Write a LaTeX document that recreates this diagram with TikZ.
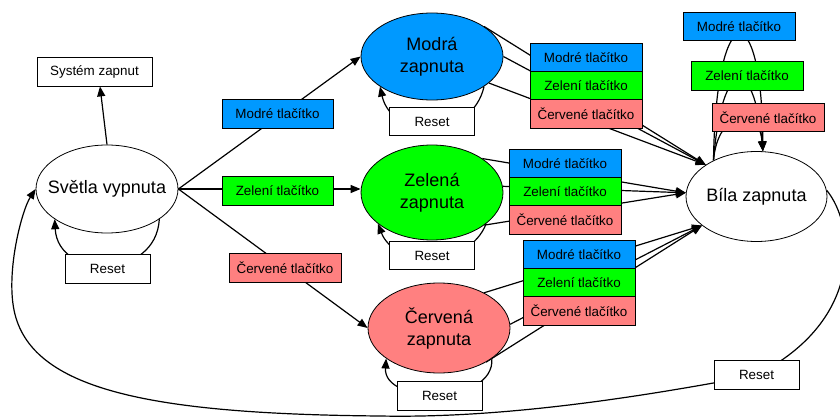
\documentclass[tikz,border=0pt]{standalone}
\usepackage{fontspec}
\setmainfont{Liberation Sans}
\usetikzlibrary{shapes.geometric,arrows.meta}
\pgfdeclarelayer{edges}
\pgfsetlayers{edges,main}
\definecolor{cblue}{RGB}{0,153,255}
\definecolor{cgreen}{RGB}{0,255,0}
\definecolor{cred}{RGB}{255,128,128}
\tikzset{
  state/.style={ellipse, draw, line width=0.8pt, fill=white, minimum width=142pt, minimum height=88pt,
    inner xsep=-12pt, inner ysep=0pt, align=center, font=\fontsize{18}{22}\selectfont},
  lbl/.style={rectangle, draw, line width=0.8pt, minimum width=112pt, minimum height=28.5pt,
    inner sep=0pt, font=\fontsize{13.4}{16}\selectfont},
  rst/.style={lbl, fill=white, minimum width=85pt},
  conn/.style={line width=1.2pt, -{Triangle[length=10pt,width=8pt]}},
}
\begin{document}
\begin{tikzpicture}[x=1pt,y=-1pt]
\useasboundingbox (0,0) rectangle (840,417);
% states
\node[state] (sv) at (107,189) {Světla vypnuta};
\node[state, fill=cblue, minimum height=87pt] (mz) at (432,56.5) {Modrá\\zapnuta};
\node[state, fill=cgreen, minimum height=95pt] (zz) at (432,192.5) {Zelená\\zapnuta};
\node[state, fill=cred, minimum height=90pt] (cz) at (439,328) {Červená\\zapnuta};
\node[state, minimum width=141pt, minimum height=90pt] (bz) at (756.5,196.5) {Bíla zapnuta};
% boxes
\node[lbl, fill=white, minimum width=115pt, minimum height=29pt] (sz) at (94.5,71.5) {Systém zapnut};
\node[rst] (r0) at (107.5,269) {Reset};
\node[rst] (r1) at (432,121.5) {Reset};
\node[rst] (r2) at (432,255.5) {Reset};
\node[rst] (r3) at (439.5,396) {Reset};
\node[rst] (r4) at (756.5,375) {Reset};
% labels from Svetla
\node[lbl, fill=cblue, minimum width=111pt] (la) at (277.5,114) {Modré tlačítko};
\node[lbl, fill=cgreen, minimum width=111pt] (lb) at (277.5,191) {Zelení tlačítko};
\node[lbl, fill=cred] (lc) at (285,268) {Červené tlačítko};
% labels from Modra
\node[lbl, fill=cblue] (ma) at (586,57.5) {Modré tlačítko};
\node[lbl, fill=cgreen] (mb) at (586,86) {Zelení tlačítko};
\node[lbl, fill=cred] (mc) at (586,114) {Červené tlačítko};
% labels from Zelena
\node[lbl, fill=cblue] (za) at (565,164) {Modré tlačítko};
\node[lbl, fill=cgreen] (zb) at (565,192) {Zelení tlačítko};
\node[lbl, fill=cred] (zc) at (565,220) {Červené tlačítko};
% labels from Cervena
\node[lbl, fill=cblue] (ca) at (579,255) {Modré tlačítko};
\node[lbl, fill=cgreen] (cb) at (579,283) {Zelení tlačítko};
\node[lbl, fill=cred] (cc) at (579,311) {Červené tlačítko};
% labels of Bila loops
\node[lbl, fill=cblue] (ba) at (739,26.5) {Modré tlačítko};
\node[lbl, fill=cgreen] (bb) at (747,76) {Zelení tlačítko};
\node[lbl, fill=cred] (bc) at (768,117.5) {Červené tlačítko};
\coordinate (b1) at (380,416);
\coordinate (b2) at (14,310);
\begin{pgfonlayer}{edges}
\draw[conn] (sv.north) -- ([xshift=5.5pt]sz.south);
\draw[conn] (sv.-30) .. controls (156,280) and (58,280) .. (sv.-150);
\draw[conn] (sv.east) -- (mz.west);
\draw[conn] (sv.east) -- (sv.east -| zz.west);
\draw[conn] (sv.east) -- (cz.west);
\draw[conn] (mz.-30) .. controls (472,140) and (392,140) .. (mz.-150);
\draw[conn] (mz.30) -- (bz.148);
\draw[conn] (mz.0) -- (bz.148);
\draw[conn] (mz.-25) -- (bz.148);
\draw[conn] (zz.34) -- (bz.177);
\draw[conn] (zz.5) -- (bz.177);
\draw[conn] (zz.-32) -- (bz.177);
\draw[conn] (zz.-30) .. controls (469,268) and (395,268) .. (zz.-150);
\draw[conn] (cz.38) -- (bz.208);
\draw[conn] (cz.3) -- (bz.208);
\draw[conn] (cz.-36) -- (bz.208);
\draw[conn] (cz.-30) .. controls (495,405) and (383,405) .. (cz.-150);
\draw[conn] (bz.140) .. controls (716,-5) and (762,-5) .. (bz.82);
\draw[conn] (bz.140) .. controls (722,55) and (754,55) .. (bz.82);
\draw[conn] (bz.140) .. controls (718,108) and (760,108) .. (bz.82);
\draw[conn] (bz.5) .. controls (855,225) and (865,320) .. (r4.center)
  .. controls (600,405) and (480,418) .. (b1)
  .. controls (150,414) and (30,390) .. (b2)
  .. controls (6,270) and (22,210) .. (sv.west);
\end{pgfonlayer}
\end{tikzpicture}
\end{document}
